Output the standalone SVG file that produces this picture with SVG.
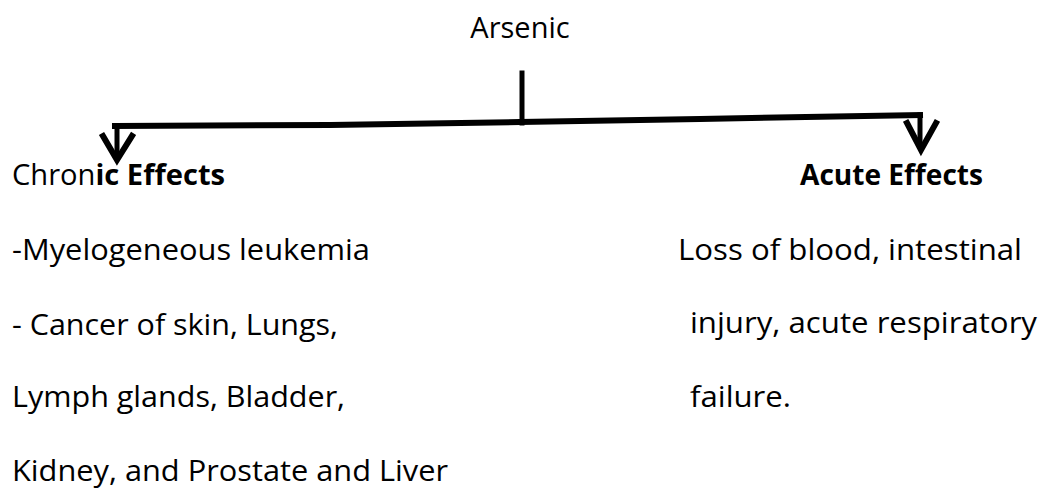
<svg xmlns="http://www.w3.org/2000/svg" width="1045" height="489" viewBox="0 0 1045 489">
  <style>
    text { font-family: "Open Sans", "Liberation Sans", sans-serif; font-size: 29px; fill: #000; }
    .head { font-size: 29px; }
    .b { font-weight: bold; }
    .ln { stroke: #000; fill: none; stroke-linecap: square; stroke-linejoin: miter; }
  </style>
  <rect width="1045" height="489" fill="#fff"/>
  <g id="connectors">
    <line class="ln" x1="522" y1="73" x2="522" y2="123" stroke-width="5"/>
    <path class="ln" d="M115,126 L330,125 L520,122 L700,119 L920,115" stroke-width="6"/>
    <line class="ln" x1="117" y1="126" x2="117" y2="155" stroke-width="5"/>
    <path class="ln" d="M103,136 L117,160 L132,136" stroke-width="6"/>
    <line class="ln" x1="920" y1="115" x2="920" y2="146" stroke-width="5"/>
    <path class="ln" d="M907,123 L921,150 L936,123" stroke-width="6"/>
  </g>
  <g id="arsenic">
    <text x="520" y="38" text-anchor="middle">Arsenic</text>
  </g>
  <g id="chronic">
    <text class="head" x="12" y="185" textLength="213" lengthAdjust="spacingAndGlyphs">Chron<tspan class="b">ic Effects</tspan></text>
    <text x="12" y="260" textLength="358" lengthAdjust="spacingAndGlyphs">-Myelogeneous leukemia</text>
    <text x="12" y="335" textLength="326" lengthAdjust="spacingAndGlyphs">- Cancer of skin, Lungs,</text>
    <text x="12" y="407" textLength="333" lengthAdjust="spacingAndGlyphs">Lymph glands, Bladder,</text>
    <text x="12" y="481" textLength="436" lengthAdjust="spacingAndGlyphs">Kidney, and Prostate and Liver</text>
  </g>
  <g id="acute">
    <text class="head b" x="800" y="185" textLength="183" lengthAdjust="spacingAndGlyphs">Acute Effects</text>
    <text x="678" y="260" textLength="344" lengthAdjust="spacingAndGlyphs">Loss of blood, intestinal</text>
    <text x="690" y="333" textLength="347" lengthAdjust="spacingAndGlyphs">injury, acute respiratory</text>
    <text x="690" y="407" textLength="101" lengthAdjust="spacingAndGlyphs">failure.</text>
  </g>
</svg>
